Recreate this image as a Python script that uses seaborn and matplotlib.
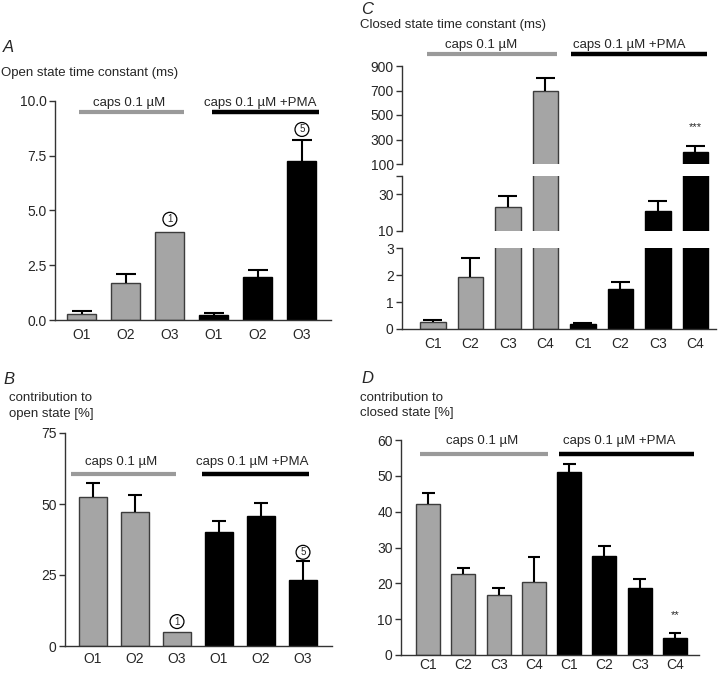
import numpy as np
import pandas as pd
import matplotlib
matplotlib.use("Agg")
import matplotlib.pyplot as plt
import seaborn as sns

# ---------------- data ----------------
open_states = ["O1", "O2", "O3"]
closed_states = ["C1", "C2", "C3", "C4"]
groups = ["caps 0.1 µM", "caps 0.1 µM +PMA"]
nan = np.nan

# A: open state time constant (ms)  (mean, mean+SEM)
A_caps = [0.27, 1.70, 4.02]
A_caps_err = [0.41, 2.09, nan]
A_pma = [0.23, 1.96, 7.28]
A_pma_err = [0.30, 2.28, 8.22]

# B: contribution to open state [%]
B_caps = [52.3, 47.3, 4.8]
B_caps_err = [57.4, 53.0, nan]
B_pma = [40.2, 45.8, 23.2]
B_pma_err = [43.9, 50.2, 29.8]

# C: closed state time constant (ms)
C_caps = [0.26, 1.93, 23.1, 700]
C_caps_err = [0.33, 2.62, 29.0, 805]
C_pma = [0.20, 1.49, 20.7, 197]
C_pma_err = [0.23, 1.73, 26.4, 243]

# D: contribution to closed state [%]
D_caps = [42.1, 22.6, 16.7, 20.3]
D_caps_err = [45.1, 24.2, 18.6, 27.4]
D_pma = [51.2, 27.6, 18.8, 4.8]
D_pma_err = [53.3, 30.5, 21.3, 6.2]

# annotations (number of patches) / significance
A_circles = [(2, 4.6, "1"), (5, 8.7, "5")]
B_circles = [(2, 8.6, "1"), (5, 33.0, "5")]
C_stars = [(7, 400, "***")]
D_stars = [(7, 11.2, "**")]

# ---------------- style ----------------
sns.set_theme(style="ticks")
plt.rcParams["font.family"] = ["Liberation Sans", "DejaVu Sans"]
GRAY = "#a5a5a5"
GRAY_EDGE = "#3c3c3c"
GRAY_LINE = "#9a9a9a"
SPINE = "#333333"
palette = {groups[0]: GRAY, groups[1]: "black"}


def make_df(states, caps, pma, caps_err, pma_err):
    rows = []
    for g, vals, errs in [(groups[0], caps, caps_err), (groups[1], pma, pma_err)]:
        for s, v, e in zip(states, vals, errs):
            rows.append({"slot": f"{g}|{s}", "state": s, "group": g, "value": v, "upper": e})
    return pd.DataFrame(rows)


def draw_bars(ax, df, width, cap):
    sns.barplot(data=df, x="slot", y="value", hue="group", order=list(df["slot"]),
                hue_order=groups, palette=palette, dodge=False, width=width,
                legend=False, errorbar=None, saturation=1, linewidth=1.0, ax=ax)
    for patch, g in zip(ax.patches, df["group"]):
        patch.set_edgecolor(GRAY_EDGE if g == groups[0] else "black")
        patch.set_linewidth(1.0)
    x = np.arange(len(df))
    v = df["value"].to_numpy()
    u = df["upper"].to_numpy()
    m = ~np.isnan(u)
    ax.vlines(x[m], v[m], u[m], color="black", lw=1.5, zorder=3)
    ax.hlines(u[m], x[m] - cap, x[m] + cap, color="black", lw=1.5, zorder=3)
    ax.set_xlabel("")
    ax.set_ylabel("")


def style_axis(ax, labels, xpad=6):
    for s in ["top", "right"]:
        ax.spines[s].set_visible(False)
    for s in ["left", "bottom"]:
        ax.spines[s].set_color(SPINE)
        ax.spines[s].set_linewidth(1.0)
    ax.set_xticks(range(len(labels)))
    ax.set_xticklabels(labels, fontsize=10)
    ax.tick_params(axis="x", length=0, pad=xpad)
    ax.tick_params(axis="y", length=4, width=1, color=SPINE, labelsize=10, pad=2)


def group_bars(ax, spans, yline, ylab, centers, clip=True):
    for (x0, x1), col, lw, xc, g in zip(spans, [GRAY_LINE, "black"], [3.0, 3.2], centers, groups):
        ax.plot([x0, x1], [yline, yline], color=col, lw=lw, solid_capstyle="butt",
                clip_on=clip)
        ax.text(xc, ylab, g, ha="center", va="center", fontsize=9.5, clip_on=False)


def circles(ax, items):
    for xi, yi, t in items:
        ax.text(xi, yi, t, ha="center", va="center", fontsize=7,
                bbox=dict(boxstyle="circle,pad=0.2", fc="white", ec="black", lw=0.9))


W, H = 720, 674
fig = plt.figure(figsize=(W / 100, H / 100), dpi=100)


def rect(left, right, top, bottom):
    return [left / W, 1 - bottom / H, (right - left) / W, (bottom - top) / H]


# ---------------- panel A ----------------
axA = fig.add_axes(rect(55, 331, 101, 320))
dfA = make_df(open_states, A_caps, A_pma, A_caps_err, A_pma_err)
draw_bars(axA, dfA, 0.66, 0.22)
style_axis(axA, dfA["state"])
axA.set_xlim(-0.61, 5.66)
axA.set_ylim(0, 10)
axA.set_yticks([0, 2.5, 5.0, 7.5, 10.0])
axA.set_yticklabels(["0.0", "2.5", "5.0", "7.5", "10.0"])
group_bars(axA, [(-0.07, 2.32), (2.95, 5.39)], 9.49, 9.93, [1.07, 4.05], clip=False)
circles(axA, A_circles)

# ---------------- panel B ----------------
axB = fig.add_axes(rect(65, 332, 433, 646))
dfB = make_df(open_states, B_caps, B_pma, B_caps_err, B_pma_err)
draw_bars(axB, dfB, 0.67, 0.16)
style_axis(axB, dfB["state"], xpad=4)
axB.set_xlim(-0.667, 5.69)
axB.set_ylim(0, 75)
axB.set_yticks([0, 25, 50, 75])
group_bars(axB, [(-0.52, 1.98), (2.6, 5.14)], 60.4, 64.8, [0.67, 3.79])
circles(axB, B_circles)

# ---------------- panel C (broken axis) ----------------
dfC = make_df(closed_states, C_caps, C_pma, C_caps_err, C_pma_err)
axC1 = fig.add_axes(rect(402, 716, 248, 329))
axC2 = fig.add_axes(rect(402, 716, 176, 231))
axC3 = fig.add_axes(rect(402, 716, 66, 164))
for ax in (axC1, axC2, axC3):
    draw_bars(ax, dfC, 0.68, 0.25)
    style_axis(ax, dfC["state"])
    ax.set_xlim(-0.82, 7.55)
axC1.set_ylim(0, 3)
axC1.set_yticks([0, 1, 2, 3])
axC2.set_ylim(10, 40)
axC2.set_yticks([10, 30, 40])
axC2.set_yticklabels(["10", "30", ""])
axC3.set_ylim(100, 900)
axC3.set_yticks([100, 300, 500, 700, 900])
for ax in (axC2, axC3):
    ax.spines["bottom"].set_visible(False)
    ax.tick_params(axis="x", bottom=False, labelbottom=False)
group_bars(axC3, [(-0.15, 3.31), (3.69, 7.32)], 998, 1071, [1.29, 5.24], clip=False)
for xi, yi, t in C_stars:
    axC3.text(xi, yi, t, ha="center", va="center", fontsize=8)

# ---------------- panel D ----------------
axD = fig.add_axes(rect(401, 699, 440, 655))
dfD = make_df(closed_states, D_caps, D_pma, D_caps_err, D_pma_err)
draw_bars(axD, dfD, 0.68, 0.18)
style_axis(axD, dfD["state"], xpad=2)
axD.set_xlim(-0.77, 7.68)
axD.set_ylim(0, 60)
axD.set_yticks([0, 10, 20, 30, 40, 50, 60])
group_bars(axD, [(-0.23, 3.39), (3.71, 7.54)], 56.0, 59.6, [1.53, 5.41])
for xi, yi, t in D_stars:
    axD.text(xi, yi, t, ha="center", va="center", fontsize=8)

# ---------------- panel letters / titles ----------------
def ftext(x, y, s, **kw):
    fig.text(x / W, 1 - y / H, s, va="center", ha="left", **kw)

ftext(3, 48, "A", fontsize=12, style="italic")
ftext(1, 73, "Open state time constant (ms)", fontsize=9.5)
ftext(361, 9, "C", fontsize=12, style="italic")
ftext(360, 25, "Closed state time constant (ms)", fontsize=9.5)
ftext(3, 379, "B", fontsize=12, style="italic")
ftext(9, 398, "contribution to", fontsize=9.5)
ftext(9, 414, "open state [%]", fontsize=9.5)
ftext(361, 378, "D", fontsize=12, style="italic")
ftext(360, 398, "contribution to", fontsize=9.5)
ftext(360, 413, "closed state [%]", fontsize=9.5)

fig.savefig("out.png", dpi=100)
